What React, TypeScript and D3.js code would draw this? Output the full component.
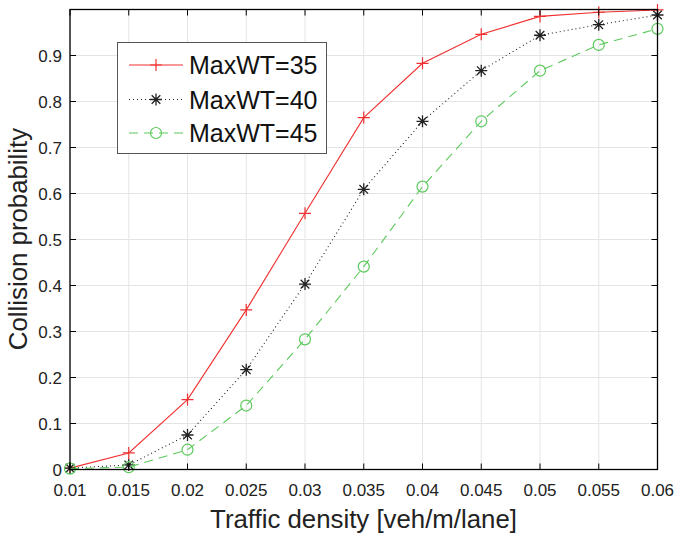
import React from "react";
import * as d3 from "d3";

const density = [0.01, 0.015, 0.02, 0.025, 0.03, 0.035, 0.04, 0.045, 0.05, 0.055, 0.06];
const wt35 = [0.003, 0.036, 0.152, 0.347, 0.557, 0.765, 0.883, 0.946, 0.985, 0.994, 0.999];
const wt40 = [0.003, 0.01, 0.075, 0.217, 0.403, 0.609, 0.757, 0.867, 0.944, 0.967, 0.988];
const wt45 = [0.002, 0.005, 0.043, 0.139, 0.283, 0.441, 0.615, 0.757, 0.867, 0.923, 0.958];
const xTicks = [0.01, 0.015, 0.02, 0.025, 0.03, 0.035, 0.04, 0.045, 0.05, 0.055, 0.06];
const yTicks = [0, 0.1, 0.2, 0.3, 0.4, 0.5, 0.6, 0.7, 0.8, 0.9];
const seriesNames = ["MaxWT=35", "MaxWT=40", "MaxWT=45"];

const W = 675, H = 535;
const L = 70, R = 657.5, T = 9.5, B = 469.5;
const FONT = "'Liberation Sans', Arial, Helvetica, sans-serif";

function Marker({ type, x, y, color }: { type: string; x: number; y: number; color: string }) {
  if (type === "plus") {
    const s = 6;
    return <path d={`M${x - s},${y}H${x + s}M${x},${y - s}V${y + s}`} stroke={color} strokeWidth={1.2} fill="none" />;
  }
  if (type === "star") {
    const s = 6, d = 4.3;
    return (
      <path
        d={`M${x - s},${y}H${x + s}M${x},${y - s}V${y + s}M${x - d},${y - d}L${x + d},${y + d}M${x - d},${y + d}L${x + d},${y - d}`}
        stroke={color}
        strokeWidth={1.3}
        fill="none"
      />
    );
  }
  return <circle cx={x} cy={y} r={5.5} stroke={color} strokeWidth={1.2} fill="none" />;
}

export default function App() {
  const x = d3.scaleLinear().domain([0.01, 0.06]).range([L, R]);
  const y = d3.scaleLinear().domain([0, 1]).range([B, T]);
  const line = d3
    .line<number>()
    .x((_, i) => x(density[i]))
    .y((d) => y(d));

  const series = [
    { data: wt35, color: "#f03030", dash: undefined as string | undefined, marker: "plus", width: 1.1 },
    { data: wt40, color: "#222222", dash: "1 3", marker: "star", width: 1.1 },
    { data: wt45, color: "#5cc95c", dash: "9 6", marker: "circle", width: 1.1 },
  ];

  const legX = 117.5, legY = 42.5, legW = 209, legH = 111;
  const rowY = [65, 99.5, 133];

  return (
    <svg width={W} height={H} style={{ position: "absolute", left: 0, top: 0, background: "#fff" }}>
      <rect x={0} y={0} width={W} height={H} fill="#fff" />
      {/* grid */}
      {xTicks.map((t) => (
        <line key={"gx" + t} x1={x(t)} x2={x(t)} y1={T} y2={B} stroke="#e4e4e4" strokeWidth={1} />
      ))}
      {yTicks.map((t) => (
        <line key={"gy" + t} x1={L} x2={R} y1={y(t)} y2={y(t)} stroke="#e4e4e4" strokeWidth={1} />
      ))}
      {/* series */}
      {series.map((s, si) => (
        <g key={si}>
          <path d={line(s.data) || ""} fill="none" stroke={s.color} strokeWidth={s.width} strokeDasharray={s.dash} />
          {s.data.map((v, i) => (
            <Marker key={i} type={s.marker} x={x(density[i])} y={y(v)} color={s.color} />
          ))}
        </g>
      ))}
      {/* axes box */}
      <rect x={L} y={T} width={R - L} height={B - T} fill="none" stroke="#000" strokeWidth={1.3} />
      {xTicks.map((t) => (
        <g key={"tx" + t}>
          <line x1={x(t)} x2={x(t)} y1={B} y2={B - 6} stroke="#000" />
          <line x1={x(t)} x2={x(t)} y1={T} y2={T + 6} stroke="#000" />
          <text x={x(t)} y={496} textAnchor="middle" fontFamily={FONT} fontSize={17} fill="#222">
            {String(t)}
          </text>
        </g>
      ))}
      {yTicks.map((t) => (
        <g key={"ty" + t}>
          <line x1={L} x2={L + 6} y1={y(t)} y2={y(t)} stroke="#000" />
          <line x1={R} x2={R - 6} y1={y(t)} y2={y(t)} stroke="#000" />
          <text x={62} y={y(t) + 6} textAnchor="end" fontFamily={FONT} fontSize={17} fill="#222">
            {String(t)}
          </text>
        </g>
      ))}
      {/* axis labels */}
      <text x={363.5} y={528} textAnchor="middle" fontFamily={FONT} fontSize={25.8} fill="#222">
        Traffic density [veh/m/lane]
      </text>
      <text
        transform={`translate(27, 239) rotate(-90)`}
        textAnchor="middle"
        fontFamily={FONT}
        fontSize={25.8}
        fill="#222"
      >
        Collision probability
      </text>
      {/* legend */}
      <rect x={legX} y={legY} width={legW} height={legH} fill="#fff" stroke="#555" strokeWidth={1} />
      {series.map((s, si) => (
        <g key={"leg" + si}>
          <line x1={129} x2={183} y1={rowY[si]} y2={rowY[si]} stroke={s.color} strokeWidth={s.width} strokeDasharray={s.dash} />
          <Marker type={s.marker} x={156} y={rowY[si]} color={s.color} />
          <text x={189} y={rowY[si] + 9} fontFamily={FONT} fontSize={25} fill="#111">
            {seriesNames[si]}
          </text>
        </g>
      ))}
    </svg>
  );
}
